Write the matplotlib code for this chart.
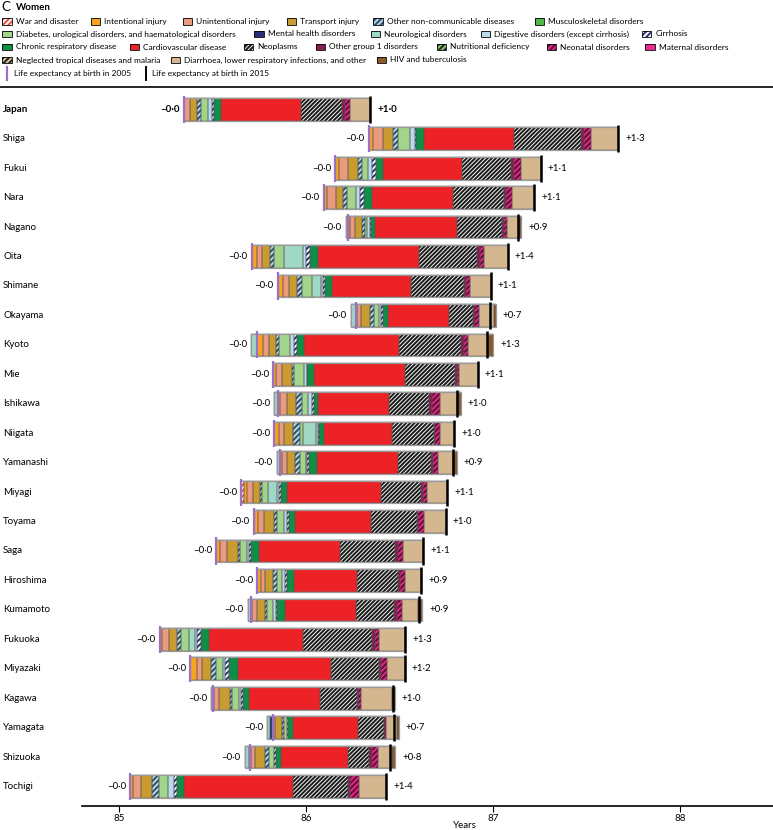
import matplotlib
matplotlib.use("Agg")
import matplotlib.pyplot as plt
from matplotlib.patches import Rectangle
from matplotlib.lines import Line2D
from matplotlib.transforms import blended_transform_factory
import numpy as np

plt.rcParams['font.family'] = ['Lato', 'DejaVu Sans']
plt.rcParams['hatch.linewidth'] = 1.4

# ---------------- data ----------------
regions = ['Japan', 'Shiga', 'Fukui', 'Nara', 'Nagano', 'Oita', 'Shimane', 'Okayama', 'Kyoto',
           'Mie', 'Ishikawa', 'Niigata', 'Yamanashi', 'Miyagi', 'Toyama', 'Saga', 'Hiroshima',
           'Kumamoto', 'Fukuoka', 'Miyazaki', 'Kagawa', 'Yamagata', 'Shizuoka', 'Tochigi']

le2005 = [85.343, 86.333, 86.155, 86.092, 86.224, 85.707, 85.846, 86.267, 85.734, 85.823,
          85.846, 85.828, 85.859, 85.650, 85.718, 85.518, 85.736, 85.704, 85.215, 85.379,
          85.502, 85.820, 85.700, 85.056]

war = [0, 0, 0, 0, 0, 0, 0, 0, 0, 0, 0, 0, 0, 0.018, 0, 0, 0, 0, 0, 0, 0, 0, 0, 0]
intentional = [0.004, 0.025, 0.019, 0.021, 0.011, 0.027, 0.027, 0.004, 0.032, 0.012, 0.012, 0.025,
               0.011, 0.012, 0.025, 0.020, 0.020, 0.005, 0.011, 0.037, 0.005, 0.004, 0.005, 0.016]
unintentional = [0.032, 0.050, 0.047, 0.048, 0.025, 0.029, 0.034, 0.023, 0.032, 0.036, 0.039, 0.027,
                 0.027, 0.036, 0.032, 0.036, 0.021, 0.029, 0.041, 0.027, 0.027, 0.009, 0.021, 0.045]
transport = [0.037, 0.054, 0.057, 0.036, 0.039, 0.043, 0.041, 0.046, 0.037, 0.050, 0.046, 0.048,
             0.041, 0.036, 0.052, 0.059, 0.046, 0.039, 0.043, 0.048, 0.057, 0.039, 0.052, 0.057]
other_ncd = [0.019, 0.027, 0.021, 0.023, 0.014, 0.020, 0.027, 0.020, 0.020, 0.012, 0.036, 0.036,
             0.029, 0.012, 0.014, 0.012, 0.018, 0.014, 0.018, 0.025, 0.011, 0.009, 0.023, 0.036]
musculoskeletal = [0] * 24
diabetes = [0.041, 0.063, 0.032, 0.047, 0.014, 0.052, 0.054, 0.030, 0.057, 0.054, 0.032, 0.018,
            0.030, 0.032, 0.041, 0.036, 0.027, 0.032, 0.046, 0.036, 0.036, 0.014, 0.027, 0.050]
mental = [0, 0, 0, 0, 0, 0, 0, 0, 0, 0, 0, 0, 0, 0, 0, 0, 0, 0, 0, 0, 0, -0.014, -0.009, 0]
neurological = [0, 0, 0, 0, -0.014, 0.103, 0.048, -0.029, -0.030, 0, -0.018, 0.072, -0.018, 0.048,
                0, 0, 0, -0.018, 0.030, 0, -0.011, -0.014, -0.021, 0]
digestive = [0.021, 0.032, 0.021, 0.021, 0.014, 0.018, 0.011, 0.011, 0.021, 0.014, 0.018, 0.007,
             0.005, 0.011, 0.012, 0.011, 0.018, 0.014, 0.012, 0.014, 0.011, 0, 0, 0.030]
cirrhosis = [0.011, 0.005, 0.020, 0.018, 0.007, 0.018, 0.012, 0.007, 0.018, 0.005, 0.011, 0.007,
             0.014, 0.012, 0.011, 0.014, 0.012, 0.007, 0.021, 0.021, 0.014, 0.007, 0.009, 0.018]
chronic_resp = [0.034, 0.039, 0.036, 0.043, 0.020, 0.046, 0.036, 0.029, 0.039, 0.036, 0.020, 0.024,
                0.039, 0.029, 0.032, 0.039, 0.037, 0.041, 0.043, 0.050, 0.030, 0.027, 0.027, 0.037]
cardiovascular = [0.430, 0.485, 0.427, 0.437, 0.437, 0.539, 0.423, 0.328, 0.505, 0.487, 0.383, 0.364,
                  0.433, 0.501, 0.410, 0.435, 0.337, 0.380, 0.503, 0.494, 0.382, 0.346, 0.357, 0.583]
neoplasms = [0.219, 0.355, 0.262, 0.273, 0.241, 0.310, 0.282, 0.125, 0.335, 0.266, 0.214, 0.225,
             0.177, 0.219, 0.243, 0.294, 0.216, 0.205, 0.366, 0.259, 0.194, 0.141, 0.116, 0.294]
other_group1 = [0.016, 0.018, 0.013, 0.011, 0.011, 0.018, 0.014, 0.012, 0.014, 0.009, 0.014, 0.007,
                0.012, 0.009, 0.009, 0.018, 0.012, 0.016, 0.018, 0.011, 0.009, 0.011, 0.012, 0.014]
nutritional = [0] * 24
neonatal = [0.028, 0.036, 0.036, 0.030, 0.018, 0.020, 0.021, 0.023, 0.021, 0.014, 0.043, 0.027,
            0.029, 0.021, 0.032, 0.027, 0.027, 0.025, 0.023, 0.029, 0.014, 0, 0.032, 0.044]
maternal = [0] * 24
ntd = [0] * 24
diarrhoea_lri = [0.107, 0.146, 0.107, 0.119, 0.062, 0.127, 0.111, 0.078, 0.107, 0.098, 0.093, 0.077,
                 0.080, 0.107, 0.114, 0.107, 0.089, 0.087, 0.139, 0.098, 0.169, 0.057, 0.080, 0.147]
hiv_tb = [0, 0, 0, 0, 0.012, 0, 0, 0.011, 0.027, 0, 0.018, 0, 0.018, 0, 0, 0, 0, 0.023, 0, 0,
          0.012, 0.012, 0.014, 0]

neg_labels = ['–0·0'] * 24
pos_labels = ['+1·0', '+1·3', '+1·1', '+1·1', '+0·9', '+1·4', '+1·1', '+0·7', '+1·3', '+1·1',
              '+1·0', '+1·0', '+0·9', '+1·1', '+1·0', '+1·1', '+0·9', '+0·9', '+1·3', '+1·2',
              '+1·0', '+0·7', '+0·8', '+1·4']

# name, values, face colour, hatch, hatch colour
causes = [
    ('War and disaster', war, 'white', '//////', '#e8503a'),
    ('Intentional injury', intentional, '#f7a51c', None, None),
    ('Unintentional injury', unintentional, '#eb9a80', None, None),
    ('Transport injury', transport, '#c99b30', None, None),
    ('Other non-communicable diseases', other_ncd, '#b8d8ea', '//////', '#2f4f66'),
    ('Musculoskeletal disorders', musculoskeletal, '#4db848', None, None),
    ('Diabetes, urological disorders, and haematological disorders', diabetes, '#a3d48c', None, None),
    ('Mental health disorders', mental, '#2b2f7a', None, None),
    ('Neurological disorders', neurological, '#9fd8c4', None, None),
    ('Digestive disorders (except cirrhosis)', digestive, '#b9dced', None, None),
    ('Cirrhosis', cirrhosis, 'white', '//////', '#2b2f7a'),
    ('Chronic respiratory disease', chronic_resp, '#0f8f45', None, None),
    ('Cardiovascular disease', cardiovascular, '#ec2227', None, None),
    ('Neoplasms', neoplasms, '#f2f2f2', '////////', '#1a1a1a'),
    ('Other group 1 disorders', other_group1, '#8b1a50', None, None),
    ('Nutritional deficiency', nutritional, '#8cc96a', '//////', '#222222'),
    ('Neonatal disorders', neonatal, '#e8238a', '//////', '#5a0f30'),
    ('Maternal disorders', maternal, '#ec2a90', None, None),
    ('Neglected tropical diseases and malaria', ntd, '#d8c48c', '//////', '#222222'),
    ('Diarrhoea, lower respiratory infections, and other', diarrhoea_lri, '#d4b68f', None, None),
    ('HIV and tuberculosis', hiv_tb, '#8b5a2b', None, None),
]

W, H = 773, 830
fig = plt.figure(figsize=(W / 100, H / 100), dpi=100)


def fx(x):
    return x / W


def fy(y):
    return 1 - y / H


ax_left, ax_right, ax_top, ax_bot = 81.7, 773, 87, 805.7
ax = fig.add_axes([fx(ax_left), fy(ax_bot), fx(ax_right - ax_left), (ax_bot - ax_top) / H])
ax.set_xlim(84.798, 88.497)
n = len(regions)
ypos = np.arange(n)
ax.set_ylim(23.65, -0.757)

bh = 0.77
le = np.array(le2005)
cum_pos = np.zeros(n)
cum_neg = np.zeros(n)
for name, vals, fc, hatch, hc in causes:
    v = np.array(vals, dtype=float)
    pos = np.where(v > 0, v, 0)
    neg = np.where(v < 0, v, 0)
    left_pos = le + cum_pos
    left_neg = le + cum_neg + neg
    for widths, lefts in ((pos, left_pos), (-neg, left_neg)):
        mask = widths > 0
        if not mask.any():
            continue
        if hatch:
            ax.barh(ypos[mask], widths[mask], left=lefts[mask], height=bh, color=fc,
                    hatch=hatch, edgecolor=hc, linewidth=0, zorder=2)
        else:
            ax.barh(ypos[mask], widths[mask], left=lefts[mask], height=bh, color=fc,
                    linewidth=0, zorder=2)
        ax.barh(ypos[mask], widths[mask], left=lefts[mask], height=bh, fill=False,
                edgecolor='#555555', linewidth=0.35, zorder=3)
    cum_pos += pos
    cum_neg += neg

bar_left = le + cum_neg
bar_right = le + cum_pos
le2015 = le + cum_pos + cum_neg

# whole-bar outline
for i in range(n):
    ax.add_patch(Rectangle((bar_left[i], ypos[i] - bh / 2), bar_right[i] - bar_left[i], bh,
                           fill=False, edgecolor='#9a9a9a', linewidth=0.9, zorder=4))
# 2005 and 2015 markers
ax.vlines(le, ypos - 0.46, ypos + 0.46, color='#9c6fc9', linewidth=1.6, zorder=5)
ax.vlines(le2015, ypos - 0.46, ypos + 0.46, color='black', linewidth=1.8, zorder=5)

# value labels
for i in range(n):
    fw = 'bold' if i == 0 else 'normal'
    ax.annotate(neg_labels[i], (bar_left[i], ypos[i]), xytext=(-3, 0), textcoords='offset points',
                ha='right', va='center', fontsize=7, fontweight=fw)
    ax.annotate(pos_labels[i], (max(bar_right[i], le2015[i]), ypos[i]), xytext=(5, 0),
                textcoords='offset points', ha='left', va='center', fontsize=7, fontweight=fw)

# region labels
tr = blended_transform_factory(fig.transFigure, ax.transData)
for i, r in enumerate(regions):
    ax.text(fx(3), ypos[i], r, transform=tr, ha='left', va='center', fontsize=7,
            fontweight='bold' if i == 0 else 'normal', clip_on=False)

# axes styling
for s in ['top', 'right', 'left']:
    ax.spines[s].set_visible(False)
ax.spines['bottom'].set_linewidth(1.2)
ax.set_yticks([])
ax.set_xticks([85, 86, 87, 88])
ax.tick_params(axis='x', direction='out', length=4, width=0.8, labelsize=7, pad=2)
ax.set_xlabel('Years', fontsize=7, labelpad=1)
ax.xaxis.set_label_coords((465 - ax_left) / (ax_right - ax_left), -0.021)

# top rule
fig.add_artist(Line2D([0, 1], [fy(87), fy(87)], color='black', linewidth=1.2,
                      transform=fig.transFigure))

# title
fig.text(fx(1.5), fy(7), 'C', fontsize=9.5, fontweight='normal', va='center', ha='left')
fig.text(fx(16), fy(7), 'Women', fontsize=7, fontweight='bold', va='center', ha='left')

# legend (manual)
leg_pos = {
    'War and disaster': (15.7, 21.7), 'Intentional injury': (104.3, 21.7),
    'Unintentional injury': (196, 21.7), 'Transport injury': (300.3, 21.7),
    'Other non-communicable diseases': (386.7, 21.7), 'Musculoskeletal disorders': (548.3, 21.7),
    'Diabetes, urological disorders, and haematological disorders': (15.7, 34),
    'Mental health disorders': (267.7, 34), 'Neurological disorders': (384, 34),
    'Digestive disorders (except cirrhosis)': (494.3, 34), 'Cirrhosis': (655.3, 34),
    'Chronic respiratory disease': (15.7, 47), 'Cardiovascular disease': (143.3, 47),
    'Neoplasms': (257.3, 47), 'Other group 1 disorders': (329.3, 47),
    'Nutritional deficiency': (450, 47), 'Neonatal disorders': (560, 47),
    'Maternal disorders': (658.7, 47),
    'Neglected tropical diseases and malaria': (15.7, 60),
    'Diarrhoea, lower respiratory infections, and other': (184, 60),
    'HIV and tuberculosis': (390, 60),
}
leg_fs = 6.0
pw, ph = 9.5, 6.5
for name, vals, fc, hatch, hc in causes:
    tx, ty = leg_pos[name]
    px0 = tx - 13.5
    rect = Rectangle((fx(px0), fy(ty + ph / 2)), pw / W, ph / H, transform=fig.transFigure,
                     facecolor=fc, edgecolor=hc if hatch else 'black', hatch=hatch,
                     linewidth=0)
    fig.add_artist(rect)
    fig.add_artist(Rectangle((fx(px0), fy(ty + ph / 2)), pw / W, ph / H,
                             transform=fig.transFigure, fill=False, edgecolor='black',
                             linewidth=0.6))
    fig.text(fx(tx), fy(ty), name, fontsize=leg_fs, va='center', ha='left')

fig.add_artist(Line2D([fx(6.7), fx(6.7)], [fy(67), fy(80)], color='#9c6fc9', linewidth=1.6,
                      transform=fig.transFigure))
fig.text(fx(14.3), fy(73.5), 'Life expectancy at birth in 2005', fontsize=leg_fs, va='center', ha='left')
fig.add_artist(Line2D([fx(145.7), fx(145.7)], [fy(67), fy(80)], color='black', linewidth=1.4,
                      transform=fig.transFigure))
fig.text(fx(151.7), fy(73.5), 'Life expectancy at birth in 2015', fontsize=leg_fs, va='center', ha='left')

fig.savefig('out.png', dpi=100)
